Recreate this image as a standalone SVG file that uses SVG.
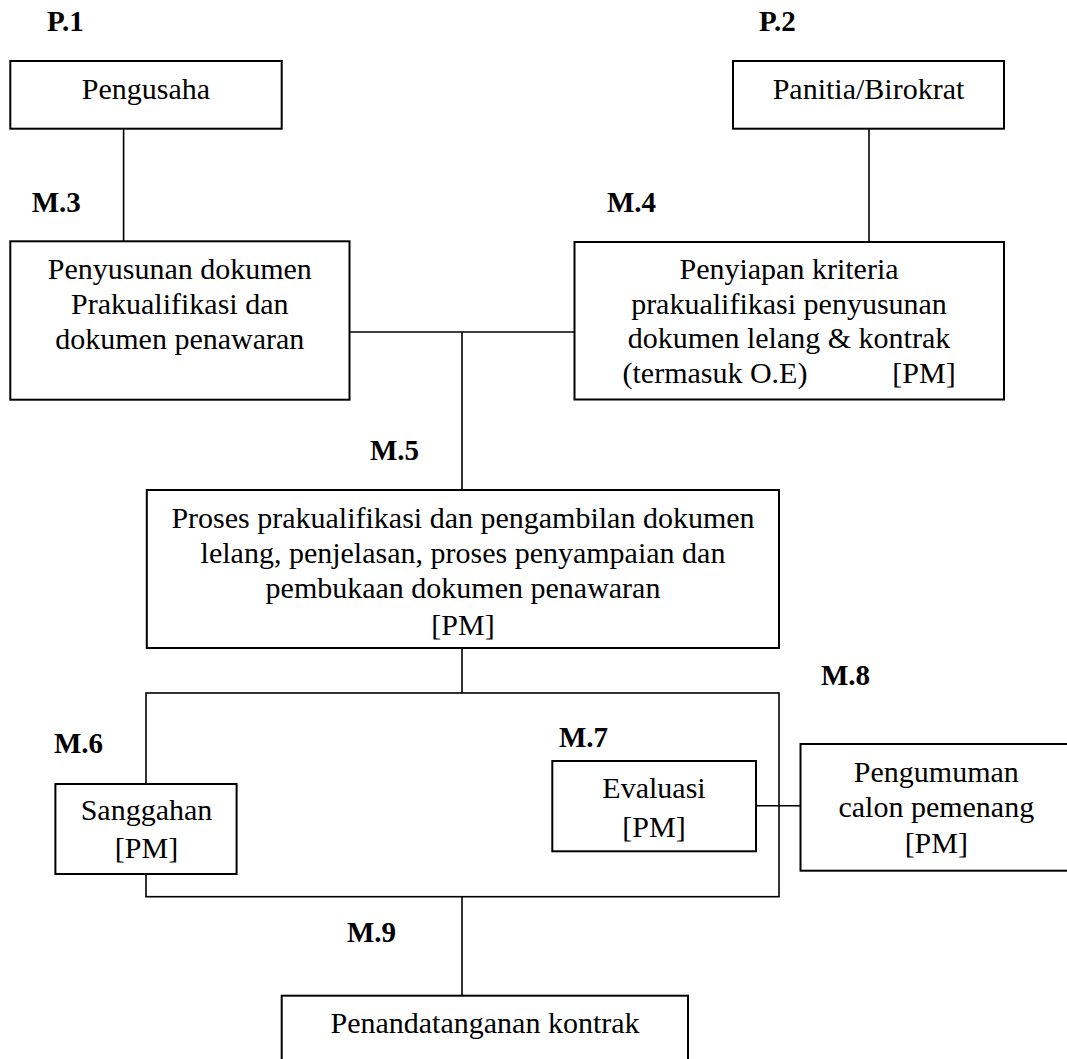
<svg xmlns="http://www.w3.org/2000/svg" width="1067" height="1059" viewBox="0 0 1067 1059">
<style>
  .box { fill: #fff; stroke: #000; stroke-width: 2; }
  .con { fill: none; stroke: #000; stroke-width: 1.6; }
  .t { font-family: "Liberation Serif", "Times New Roman", serif; font-size: 30px; fill: #000; text-anchor: middle; }
  .lbl { font-family: "Liberation Serif", "Times New Roman", serif; font-size: 29px; font-weight: bold; fill: #000; }
</style>
<rect x="0" y="0" width="1067" height="1059" fill="#fff"/>

<g id="connectors">
  <line class="con" x1="123.6" y1="129" x2="123.6" y2="241.3"/>
  <line class="con" x1="869" y1="129" x2="869" y2="242"/>
  <line class="con" x1="349.5" y1="332" x2="574.5" y2="332"/>
  <line class="con" x1="462" y1="332" x2="462" y2="490"/>
  <line class="con" x1="462" y1="648" x2="462" y2="693"/>
  <rect class="con" x="146" y="693" width="633" height="203.7"/>
  <line class="con" x1="756" y1="805.7" x2="800.5" y2="805.7"/>
  <line class="con" x1="462" y1="896.7" x2="462" y2="995.7"/>
</g>

<g id="labels">
  <text class="lbl" x="47" y="30.7">P.1</text>
  <text class="lbl" x="759" y="30.7">P.2</text>
  <text class="lbl" x="31.7" y="211.7">M.3</text>
  <text class="lbl" x="607" y="211.7">M.4</text>
  <text class="lbl" x="370" y="460">M.5</text>
  <text class="lbl" x="54" y="753.3">M.6</text>
  <text class="lbl" x="559" y="746.7">M.7</text>
  <text class="lbl" x="821" y="685">M.8</text>
  <text class="lbl" x="347" y="941.7">M.9</text>
</g>

<g id="p1">
  <rect class="box" x="10.3" y="61" width="271.4" height="67.7"/>
  <text class="t" x="146" y="99.3">Pengusaha</text>
</g>

<g id="p2">
  <rect class="box" x="733" y="61" width="271" height="67.7"/>
  <text class="t" x="868.5" y="99.3">Panitia/Birokrat</text>
</g>

<g id="m3">
  <rect class="box" x="10.3" y="241.3" width="339.2" height="158.4"/>
  <text class="t" x="179.8" y="279.3">Penyusunan dokumen</text>
  <text class="t" x="179.8" y="314.3">Prakualifikasi dan</text>
  <text class="t" x="179.8" y="349">dokumen penawaran</text>
</g>

<g id="m4">
  <rect class="box" x="574.5" y="242" width="429.5" height="157.5"/>
  <text class="t" x="789" y="279.3">Penyiapan kriteria</text>
  <text class="t" x="789" y="314.3">prakualifikasi penyusunan</text>
  <text class="t" x="789" y="348.3">dokumen lelang &amp; kontrak</text>
  <text class="t" y="383.3"><tspan x="622.5" text-anchor="start">(termasuk O.E)</tspan><tspan x="955.7" text-anchor="end">[PM]</tspan></text>
</g>

<g id="m5">
  <rect class="box" x="146.8" y="490" width="632.2" height="158"/>
  <text class="t" x="463" y="528.3">Proses prakualifikasi dan pengambilan dokumen</text>
  <text class="t" x="463" y="563.3">lelang, penjelasan, proses penyampaian dan</text>
  <text class="t" x="463" y="598.3">pembukaan dokumen penawaran</text>
  <text class="t" x="463" y="635">[PM]</text>
</g>

<g id="m6">
  <rect class="box" x="55.4" y="784" width="181.2" height="90"/>
  <text class="t" x="146.5" y="820">Sanggahan</text>
  <text class="t" x="146.5" y="858.3">[PM]</text>
</g>

<g id="m7">
  <rect class="box" x="552.3" y="761" width="203.7" height="90.3"/>
  <text class="t" x="654" y="798.3">Evaluasi</text>
  <text class="t" x="654" y="836.7">[PM]</text>
</g>

<g id="m8">
  <rect class="box" x="800.5" y="744" width="272" height="126.7"/>
  <text class="t" x="936.3" y="781.7">Pengumuman</text>
  <text class="t" x="936.3" y="816.7">calon pemenang</text>
  <text class="t" x="936.3" y="853.3">[PM]</text>
</g>

<g id="m9">
  <rect class="box" x="281.7" y="995.7" width="406.3" height="80"/>
  <text class="t" x="485" y="1033.3">Penandatanganan kontrak</text>
</g>
</svg>
